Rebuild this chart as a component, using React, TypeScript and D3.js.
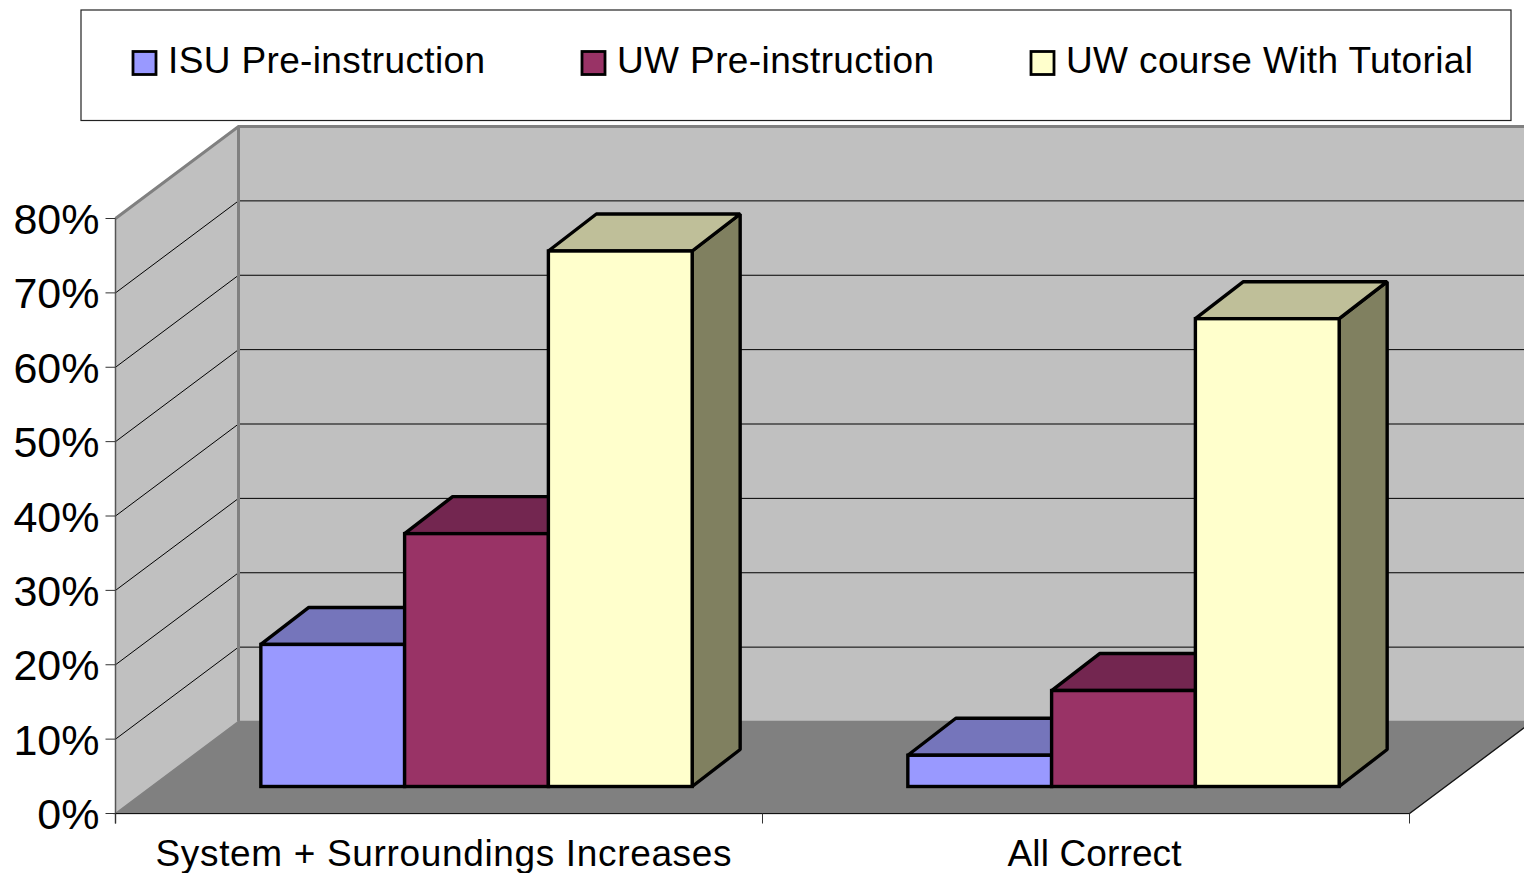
import React from "react";
import * as d3 from "d3";

const categories = ["System + Surroundings Increases", "All Correct"];
const seriesNames = ["ISU Pre-instruction", "UW Pre-instruction", "UW course With Tutorial"];
const isuValues = [0.191, 0.042];
const uwPreValues = [0.34, 0.129];
const uwTutorialValues = [0.72, 0.629];
const seriesValues = [isuValues, uwPreValues, uwTutorialValues];
const frontColors = ["#9999ff", "#993366", "#ffffcc"];
const topColors = ["#7575bb", "#732650", "#bfbf99"];
const sideColors = ["#737399", "#732650", "#808060"];
const yTicks = [0, 0.1, 0.2, 0.3, 0.4, 0.5, 0.6, 0.7, 0.8];
const legendSwatchX = [133, 582, 1031];
const legendTextWidths = [317, 317, 407];
const categoryLabelDx = [4.5, 8.5];
const categoryLabelWidths = [576, 174];

const W = 1524, H = 873;
const x0 = 115.5, x1 = 1409.5;
const depthX = 123, depthY = 92;
const barDepthX = 48, barDepthY = 37;
const barOffsetX = 37.5, barOffsetY = 27;

const y = d3.scaleLinear().domain([0, 0.8]).range([813.5, 218.5]);
const xCat = d3.scaleBand<string>().domain(categories).range([x0, x1]).padding(0);
const xSer = d3.scaleBand<string>().domain(seriesNames).range([0, xCat.bandwidth()]).paddingInner(0).paddingOuter(0.75);
const FONT = "'Liberation Sans', Arial, sans-serif";
const poly = (p: [number, number][]) => (d3.line()(p) as string) + "Z";

export default function App() {
  const top = y(0.8), bot = y(0);
  return (
    <svg width={W} height={H} viewBox={`0 0 ${W} ${H}`} style={{ position: "fixed", left: 0, top: 0, background: "#fff" }} fontFamily={FONT}>
      {/* legend */}
      <rect x={81} y={10} width={1430} height={110.5} fill="#fff" stroke="#222" strokeWidth={1.2} />
      {seriesNames.map((s, i) => (
        <g key={s}>
          <rect x={legendSwatchX[i]} y={51.5} width={23} height={23} fill={frontColors[i]} stroke="#000" strokeWidth={2.8} />
          <text x={legendSwatchX[i] + 35} y={73} fontSize={37} fill="#000" textLength={legendTextWidths[i]} lengthAdjust="spacing">{s}</text>
        </g>
      ))}
      {/* walls and floor */}
      <path d={poly([[x0, bot], [x0, top], [x0 + depthX, top - depthY], [x0 + depthX, bot - depthY]])} fill="#c0c0c0" />
      <path d={poly([[x0 + depthX, top - depthY], [x1 + depthX, top - depthY], [x1 + depthX, bot - depthY], [x0 + depthX, bot - depthY]])} fill="#c0c0c0" />
      <path d={poly([[x0, bot], [x1, bot], [x1 + depthX, bot - depthY], [x0 + depthX, bot - depthY]])} fill="#808080" stroke="#808080" strokeWidth={1.5} />
      {/* gridlines */}
      {yTicks.filter(t => t > 0 && t < 0.8).map(t => (
        <path key={t} d={`M${x0},${y(t)}L${x0 + depthX},${y(t) - depthY}`} stroke="#000" strokeWidth={1} fill="none" />
      ))}
      {yTicks.filter(t => t > 0).map(t => (
        <path key={t} d={`M${x0 + depthX},${y(t) - depthY}L${x1 + depthX},${y(t) - depthY}`} stroke="#000" strokeWidth={1} fill="none" />
      ))}
      {/* wall borders */}
      <path d={`M${x0},${top}L${x0 + depthX},${top - depthY}L${x1 + depthX},${top - depthY}M${x0 + depthX},${top - depthY}L${x0 + depthX},${bot - depthY}`} stroke="#808080" strokeWidth={3} fill="none" />
      {/* axes */}
      <path d={`M${x0},${top}L${x0},${bot + 10}`} stroke="#555" strokeWidth={1.5} fill="none" />
      <path d={`M${x0},${bot}L${x1},${bot}L${x1 + depthX},${bot - depthY}`} stroke="#111" strokeWidth={1.2} fill="none" />
      {[x0, x0 + xCat.step(), x1].map(v => (
        <path key={v} d={`M${v},${bot}V${bot + 10}`} stroke="#333" strokeWidth={1} />
      ))}
      {yTicks.map(t => (
        <g key={t}>
          <path d={`M${x0 - 10},${y(t)}H${x0}`} stroke="#333" strokeWidth={1} />
          <text x={99.5} y={y(t) + 15.5} textAnchor="end" fontSize={43} fill="#000">{d3.format(".0%")(t)}</text>
        </g>
      ))}
      {categories.map((c, i) => (
        <text key={c} x={(xCat(c) as number) + xCat.bandwidth() / 2 + categoryLabelDx[i]} y={866} textAnchor="middle" fontSize={37} fill="#000" textLength={categoryLabelWidths[i]} lengthAdjust="spacing">{c}</text>
      ))}
      {/* bars */}
      {categories.map((c, ci) => (
        <g key={c} stroke="#000" strokeWidth={3.4}>
          {seriesNames.map((s, si) => {
            const xa = (xCat(c) as number) + (xSer(s) as number) + barOffsetX;
            const xb = xa + xSer.bandwidth();
            const yb = y(0) - barOffsetY;
            const yt = y(seriesValues[si][ci]) - barOffsetY;
            return (
              <g key={s}>
                <path d={poly([[xb, yb], [xb, yt], [xb + barDepthX, yt - barDepthY], [xb + barDepthX, yb - barDepthY]])} fill={sideColors[si]} strokeLinejoin="bevel" />
                <path d={poly([[xa, yt], [xa + barDepthX, yt - barDepthY], [xb + barDepthX, yt - barDepthY], [xb, yt]])} fill={topColors[si]} strokeLinejoin="bevel" />
                <rect x={xa} y={yt} width={xb - xa} height={yb - yt} fill={frontColors[si]} />
              </g>
            );
          })}
        </g>
      ))}
    </svg>
  );
}
